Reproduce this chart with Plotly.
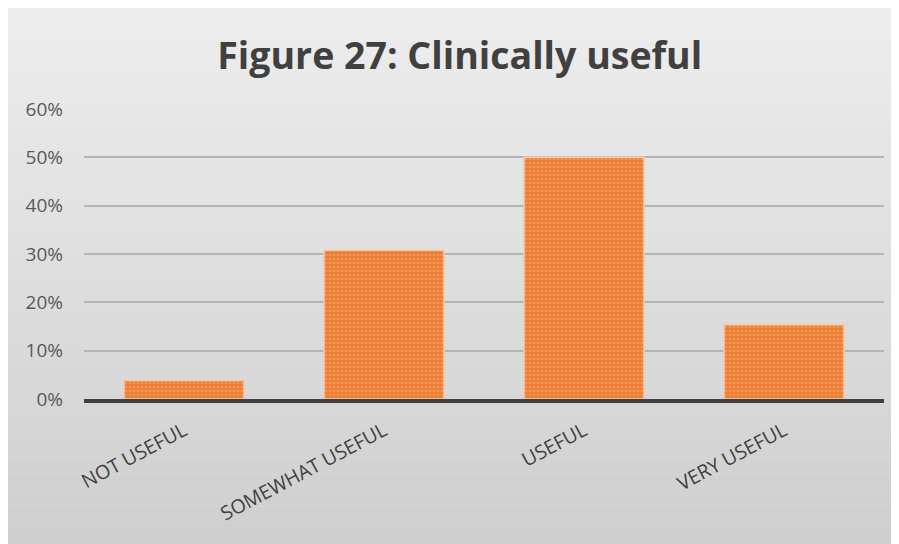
import plotly.graph_objects as go

categories = ["NOT USEFUL", "SOMEWHAT USEFUL", "USEFUL", "VERY USEFUL"]
values = [1/26, 8/26, 13/26, 4/26]
tick_vals = [0, 0.1, 0.2, 0.3, 0.4, 0.5, 0.6]
tick_text = ["0%", "10%", "20%", "30%", "40%", "50%", "60%"]

fig = go.Figure()
fig.add_trace(go.Bar(
    x=categories, y=values, width=0.6,
    marker=dict(
        color="#ED7D31",
        line=dict(color="#F8CBAD", width=1.5),
        pattern=dict(shape=".", bgcolor="#ED7D31", fgcolor="#F6B58A", size=4, solidity=0.35),
    ),
    hoverinfo="skip",
))

# background gradient bands
shapes = []
n = 40
for i in range(n):
    t = i / (n - 1)
    c = int(240 - (240 - 204) * t)
    shapes.append(dict(type="rect", xref="paper", yref="paper", layer="below",
                       x0=-0.2, x1=1.2, y0=1.5 - (i + 1) * 2.2 / n, y1=1.5 - i * 2.2 / n,
                       fillcolor=f"rgb({c},{c},{c})", line=dict(width=0)))

fig.update_layout(
    width=891, height=536,
    margin=dict(l=76, r=15, t=101, b=145),
    paper_bgcolor="#e0e0e0",
    plot_bgcolor="rgba(0,0,0,0)",
    shapes=shapes,
    showlegend=False,
    title=dict(text="<b>Figure 27: Clinically useful</b>", x=0.507, xanchor="center",
               y=0.91, yanchor="middle",
               font=dict(family="Open Sans, Noto Sans, sans-serif", size=37.5, color="#404040")),
    font=dict(family="Open Sans, Noto Sans, sans-serif", color="#595959"),
    bargap=0.4,
)
fig.update_yaxes(range=[0, 0.6], tickvals=tick_vals, ticktext=tick_text,
                 showgrid=True, gridcolor="#b4b4b4", gridwidth=1.5,
                 zeroline=False, showline=False, ticks="",
                 tickfont=dict(size=19, color="#595959"), ticklabelstandoff=20)
fig.update_xaxes(showline=True, linecolor="#404040", linewidth=4, ticks="",
                 tickangle=-28, tickfont=dict(size=19.5, color="#404040"),
                 ticklabelstandoff=9, range=[-0.5, 3.5])

fig.write_html("out.html")
